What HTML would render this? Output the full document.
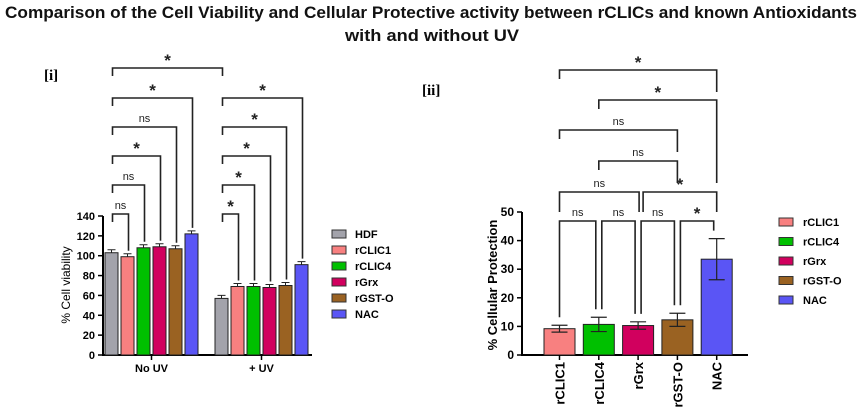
<!DOCTYPE html>
<html><head><meta charset="utf-8"><style>
html,body{margin:0;padding:0;background:#fff;}
svg{display:block;font-family:"Liberation Sans",Arial,sans-serif;}
</style></head><body>
<svg id="chart" width="865" height="415" viewBox="0 0 865 415">
<text x="431" y="18" text-anchor="middle" font-size="17" font-weight="bold" fill="#111" textLength="852" lengthAdjust="spacingAndGlyphs">Comparison of the Cell Viability and Cellular Protective activity between rCLICs and known Antioxidants</text>
<text x="432" y="41" text-anchor="middle" font-size="17" font-weight="bold" fill="#111" textLength="174" lengthAdjust="spacingAndGlyphs">with and without UV</text>
<text x="44" y="80" font-family="Liberation Serif,serif" font-size="15" font-weight="bold">[i]</text>
<text x="422" y="95" font-family="Liberation Serif,serif" font-size="15" font-weight="bold">[ii]</text>
<g id="p1"></g><g id="p2"></g>
</svg>
<script>
// Panel i data
const groups1 = ["No UV", "+ UV"];
const series1 = ["HDF", "rCLIC1", "rCLIC4", "rGrx", "rGST-O", "NAC"];
const noUV = [103, 99, 108, 109, 107, 122];
const plusUV = [57, 69, 69, 68, 70, 91];
const ticks1 = [0, 20, 40, 60, 80, 100, 120, 140];
// Panel ii data
const cats2 = ["rCLIC1", "rCLIC4", "rGrx", "rGST-O", "NAC"];
const prot = [9.2, 10.7, 10.3, 12.3, 33.5];
const protErr = [1.2, 2.5, 1.3, 2.3, 7.2];
const ticks2 = [0, 10, 20, 30, 40, 50];
const colors = {"HDF":"#a3a3ab","rCLIC1":"#f88080","rCLIC4":"#00c000","rGrx":"#d1005e","rGST-O":"#9a6222","NAC":"#5a55f5"};

const NS="http://www.w3.org/2000/svg";
function mk(parent,tag,attrs,text){const e=document.createElementNS(NS,tag);for(const k in attrs)e.setAttribute(k,attrs[k]);if(text!==undefined)e.textContent=text;parent.appendChild(e);return e;}

// ---------- Panel i ----------
const p1=document.getElementById('p1');
const y1=v=>355-v*(139/140);
const gx1=[105,215];
const bx1=(g,i)=>gx1[g]+i*16;
const bw1=13;
let ax=mk(p1,'line',{x1:103,y1:216,x2:103,y2:356,stroke:'#000','stroke-width':2});

ax=mk(p1,'line',{x1:102,y1:355,x2:312,y2:355,stroke:'#000','stroke-width':2});

ticks1.forEach(t=>{
 let l=mk(p1,'line',{x1:98,x2:103,y1:y1(t),y2:y1(t),stroke:'#000','stroke-width':1.5});
 
 let tx=mk(p1,'text',{x:95,y:y1(t)+4,'text-anchor':'end','font-size':11,'font-weight':'bold'},t);
 
});
let yt=mk(p1,'text',{transform:'translate(70,285) rotate(-90)','text-anchor':'middle','font-size':12},'% Cell viability');

[noUV,plusUV].forEach((vals,g)=>{
 const cx=bx1(g,0)+ (5*16+bw1)/2;
 let tk=mk(p1,'line',{x1:cx,x2:cx,y1:355,y2:360,stroke:'#000','stroke-width':1.5});
 
 let gl=mk(p1,'text',{x:cx,y:372,'text-anchor':'middle','font-size':11,'font-weight':'bold'},groups1[g]);
 
 vals.forEach((v,i)=>{
  const x=bx1(g,i);
  let r=mk(p1,'rect',{x:x,y:y1(v),width:bw1,height:355-y1(v),fill:colors[series1[i]],stroke:'#222','stroke-width':1});
  
  
  const c=x+bw1/2;
  let e=mk(p1,'path',{d:`M${c-4},${y1(v)-3}H${c+4}M${c},${y1(v)-3}V${y1(v)}`,stroke:'#222','stroke-width':1,fill:'none'});
  
 });
});
function bracket(p,xl,xr,y,lyl,lyr,label,name){
 let b=mk(p,'path',{d:`M${xl},${lyl}V${y}H${xr}V${lyr}`,stroke:'#222','stroke-width':1.6,fill:'none'});
 
 const star=label==='*';
 let t=mk(p,'text',{x:(xl+xr)/2,y:star?y-2:y-5,'text-anchor':'middle','font-size':star?17:11,'font-weight':star?'bold':'normal',fill:'#222'},label);
 
}
const levels1=[214,185,156,127,98];
const labs1a=['ns','ns','*','ns','*'];
const labs1b=['*','*','*','*','*'];
[0,1].forEach(g=>{
 const vals=g?plusUV:noUV;const labs=g?labs1b:labs1a;
 const lx=bx1(g,0)+bw1/2+1;
 levels1.forEach((y,k)=>{
  const i=k+1;const rx=bx1(g,i)+bw1/2+1;
  bracket(p1,lx,rx,y,y+8,y1(vals[i])-6,labs[k],'comparison-bracket-i');
 });
});
bracket(p1,bx1(0,0)+bw1/2+1,bx1(1,0)+bw1/2+1,68,76,76,'*','comparison-bracket-hdf-uv');
series1.forEach((s,i)=>{
 const y=234+i*16;
 let r=mk(p1,'rect',{x:332,y:y-4,width:14,height:8,fill:colors[s],stroke:'#333','stroke-width':1});
 
 let t=mk(p1,'text',{x:355,y:y+4,'font-size':11,'font-weight':'bold'},s);
 
});

// ---------- Panel ii ----------
const p2=document.getElementById('p2');
const y2=v=>355-v*(143/50);
const bx2=i=>544+i*39.3;
const bw2=31;
ax=mk(p2,'line',{x1:522,y1:212,x2:522,y2:356,stroke:'#000','stroke-width':2});

ax=mk(p2,'line',{x1:521,y1:355,x2:748,y2:355,stroke:'#000','stroke-width':2});

ticks2.forEach(t=>{
 let l=mk(p2,'line',{x1:517,x2:522,y1:y2(t),y2:y2(t),stroke:'#000','stroke-width':1.5});
 
 let tx=mk(p2,'text',{x:514,y:y2(t)+4,'text-anchor':'end','font-size':12,'font-weight':'bold'},t);
 
});
yt=mk(p2,'text',{transform:'translate(497,285) rotate(-90)','text-anchor':'middle','font-size':13,'font-weight':'bold'},'% Cellular Protection');

prot.forEach((v,i)=>{
 const x=bx2(i),c=x+bw2/2;
 let r=mk(p2,'rect',{x:x,y:y2(v),width:bw2,height:355-y2(v),fill:colors[cats2[i]],stroke:'#222','stroke-width':1});
 
 const e=protErr[i];
 let eb=mk(p2,'path',{d:`M${c-8},${y2(v+e)}H${c+8}M${c},${y2(v+e)}V${y2(v-e)}M${c-8},${y2(v-e)}H${c+8}`,stroke:'#222','stroke-width':1.2,fill:'none'});
 
 let tk=mk(p2,'line',{x1:c,x2:c,y1:355,y2:360,stroke:'#000','stroke-width':1.5});
 
 let tl=mk(p2,'text',{transform:`translate(${c+5},362) rotate(-90)`,'text-anchor':'end','font-size':13,'font-weight':'bold'},cats2[i]);
 
});
const cx2=i=>bx2(i)+bw2/2;
const topOf=i=>y2(prot[i]+protErr[i])-8;
// adjacent pairs
[['ns',0,1],['ns',1,2],['ns',2,3],['*',3,4]].forEach(([l,a,b])=>{
 bracket(p2,cx2(a)+(a?3:0),cx2(b)-3,221,topOf(a),topOf(b),l,'comparison-bracket-ii');
});
bracket(p2,cx2(0),cx2(2)+1,192,221-9,221-9,'ns','comparison-bracket-ii');
bracket(p2,cx2(2)+5,cx2(4),192,221-9,221-9,'*','comparison-bracket-ii');
bracket(p2,cx2(1),cx2(3),161,170,183,'ns','comparison-bracket-ii');
bracket(p2,cx2(0),cx2(3),130,139,152,'ns','comparison-bracket-ii');
bracket(p2,cx2(1),cx2(4),100,109,183,'*','comparison-bracket-ii');
bracket(p2,cx2(0),cx2(4),70,79,92,'*','comparison-bracket-ii');
cats2.forEach((s,i)=>{
 const y=222+i*19.5;
 let r=mk(p2,'rect',{x:779,y:y-4,width:14,height:8,fill:colors[s],stroke:'#333','stroke-width':1});
 
 let t=mk(p2,'text',{x:803,y:y+4,'font-size':11,'font-weight':'bold'},s);
 
});
</script>
</body></html>
